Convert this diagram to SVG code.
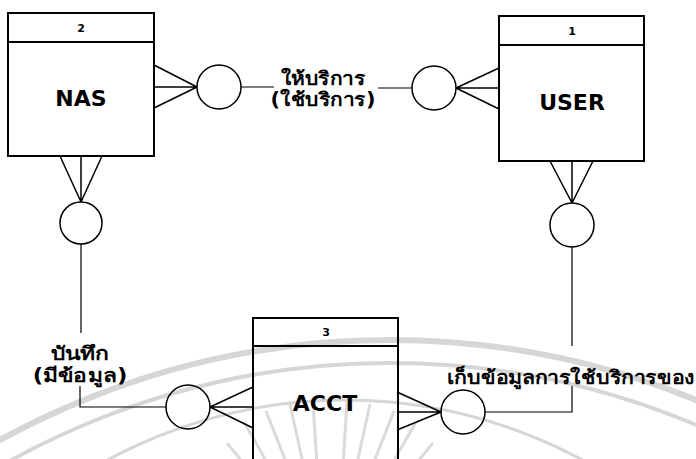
<svg xmlns="http://www.w3.org/2000/svg" width="696" height="459" viewBox="0 0 696 459">
<style>
.box{fill:none;stroke:#000;stroke-width:2}
.div{stroke:#000;stroke-width:2}
.c{fill:none;stroke:#000;stroke-width:1.5}
.ln{fill:none;stroke:#000;stroke-width:1.2}
.cf{stroke:#000;stroke-width:1.5;fill:none}
.wm{fill:none;stroke:#d6d6d6}
.num{font-family:"DejaVu Sans",Verdana,sans-serif;font-weight:bold;font-size:11px;text-anchor:middle}
.name{font-family:"DejaVu Sans",Verdana,sans-serif;font-weight:bold;font-size:22px;text-anchor:middle}
.lbl{font-family:"DejaVu Sans","Noto Sans",sans-serif;font-weight:bold;font-size:19px;text-anchor:middle}
</style>
<rect width="696" height="459" fill="#fff"/>
<g id="watermark">
<circle class="wm" cx="390" cy="1150" r="810" stroke-width="6"/>
<circle class="wm" cx="390" cy="1150" r="787" stroke-width="4"/>
<circle class="wm" cx="345" cy="900" r="500" stroke-width="3"/>
<g stroke="#dadada" stroke-width="3">
<line x1="260" y1="499" x2="212" y2="472"/>
<line x1="265" y1="489" x2="227" y2="443"/>
<line x1="277" y1="480" x2="244" y2="422"/>
<line x1="290" y1="472" x2="266" y2="411"/>
<line x1="304" y1="468" x2="290" y2="404"/>
<line x1="317" y1="466" x2="313" y2="402"/>
<line x1="343" y1="466" x2="347" y2="402"/>
<line x1="356" y1="468" x2="370" y2="404"/>
<line x1="370" y1="472" x2="394" y2="411"/>
<line x1="383" y1="480" x2="416" y2="422"/>
<line x1="395" y1="489" x2="433" y2="443"/>
<line x1="400" y1="499" x2="448" y2="472"/>
</g>
</g>
<g id="connectors">
<g id="nas-user">
<path class="cf" d="M154,65 L197,87 M154,87 L197,87 M154,108 L197,87"/>
<circle class="c" cx="219" cy="87" r="22"/>
<line class="ln" x1="241" y1="87" x2="274" y2="87"/>
<line class="ln" x1="378" y1="88" x2="412" y2="88"/>
<circle class="c" cx="434" cy="88" r="22"/>
<path class="cf" d="M499,68 L456,88 M499,88 L456,88 M499,109 L456,88"/>
<text class="lbl" transform="translate(323,85) scale(1.1,1)"><tspan x="0" y="0">ให้บริการ</tspan><tspan x="0" y="21">(ใช้บริการ)</tspan></text>
</g>
<g id="nas-acct">
<path class="cf" d="M60,156 L81,202 M81,156 L81,202 M102,156 L81,202"/>
<circle class="c" cx="81" cy="223" r="21"/>
<line class="ln" x1="81" y1="244" x2="81" y2="333"/>
<polyline class="ln" points="80,386 80,407 166,407"/>
<circle class="c" cx="188" cy="407" r="22"/>
<path class="cf" d="M253,387 L210,407 M253,407 L210,407 M253,428 L210,407"/>
<text class="lbl" transform="translate(80,360) scale(1.2,1)"><tspan x="0" y="0">บันทึก</tspan><tspan x="0" y="22">(มีข้อมูล)</tspan></text>
</g>
<g id="user-acct">
<path class="cf" d="M550,161 L572,203 M572,161 L572,203 M593,161 L572,203"/>
<circle class="c" cx="572" cy="225" r="22"/>
<line class="ln" x1="572" y1="247" x2="572" y2="346"/>
<polyline class="ln" points="572,386 572,412 485,412"/>
<circle class="c" cx="463" cy="412" r="22"/>
<path class="cf" d="M397,392 L441,412 M397,412 L441,412 M397,430 L441,412"/>
<text class="lbl" transform="translate(571,384) scale(1.12,1)" x="0" y="0">เก็บข้อมูลการใช้บริการของ</text>
</g>
</g>
<g id="node-nas">
<rect class="box" x="8" y="13" width="146" height="143"/>
<line class="div" x1="8" y1="42" x2="154" y2="42"/>
<text class="num" x="81" y="32">2</text>
<text class="name" x="81" y="106">NAS</text>
</g>
<g id="node-user">
<rect class="box" x="499" y="16" width="145" height="145"/>
<line class="div" x1="499" y1="45" x2="644" y2="45"/>
<text class="num" x="572" y="35">1</text>
<text class="name" x="572" y="110">USER</text>
</g>
<g id="node-acct">
<rect class="box" x="253" y="318" width="145" height="200"/>
<line class="div" x1="253" y1="346" x2="398" y2="346"/>
<text class="num" x="326" y="336">3</text>
<text class="name" x="325" y="411">ACCT</text>
</g>
</svg>
